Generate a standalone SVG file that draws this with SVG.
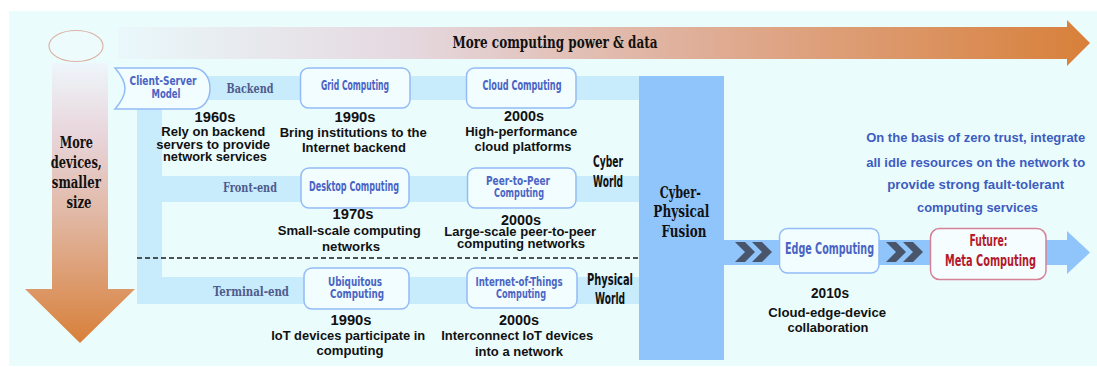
<svg xmlns="http://www.w3.org/2000/svg" width="1097" height="367" viewBox="0 0 1097 367">
  <defs>
    <linearGradient id="gTop" x1="118" y1="0" x2="1090" y2="0" gradientUnits="userSpaceOnUse">
      <stop offset="0" stop-color="#eaf8fb"/>
      <stop offset="0.3" stop-color="#e5d8df"/>
      <stop offset="0.62" stop-color="#dfab92"/>
      <stop offset="1" stop-color="#d8803a"/>
    </linearGradient>
    <linearGradient id="gDown" x1="0" y1="63" x2="0" y2="343" gradientUnits="userSpaceOnUse">
      <stop offset="0" stop-color="#eef6fb"/>
      <stop offset="0.25" stop-color="#e8d6dc"/>
      <stop offset="0.55" stop-color="#e1b7a3"/>
      <stop offset="1" stop-color="#d8803a"/>
    </linearGradient>
    <polygon id="chev" points="0,0 10,0 20,10 10,20 0,20 10,10"/>
  </defs>
  <style>
    .band { fill: #c8ecfc; }
    .fusion { fill: #90c5fc; }
    .box { fill: #f1fdff; stroke: #93bbf6; stroke-width: 1.5; }
    .boxR { fill: #f6fdff; stroke: #d68296; stroke-width: 1.5; }
    .lbl { font-family: "DejaVu Sans Condensed", "DejaVu Sans", sans-serif; font-stretch: condensed; font-weight: bold; fill: #4a64c4; text-anchor: middle; }
    .red { fill: #b4192b; }
    .slab { font-family: "DejaVu Serif Condensed", "DejaVu Serif", serif; font-stretch: condensed; font-weight: bold; text-anchor: middle; }
    .tier { fill: #4f5b8c; font-size: 13.5px; }
    .world { font-family: "DejaVu Sans Condensed", "DejaVu Sans", sans-serif; font-stretch: condensed; font-weight: bold; fill: #111; font-size: 15px; text-anchor: middle; }
    .yr { font-family: "Liberation Sans", Arial, sans-serif; font-weight: bold; fill: #111; font-size: 14px; text-anchor: middle; }
    .desc { font-family: "Liberation Sans", Arial, sans-serif; font-weight: bold; fill: #111; font-size: 13px; text-anchor: middle; }
    .note { font-family: "Liberation Sans", Arial, sans-serif; font-weight: bold; fill: #3d5cc0; font-size: 13px; text-anchor: middle; }
    .chev { fill: #48556a; }
  </style>

  <!-- canvas -->
  <rect x="9" y="11" width="1088" height="355" fill="#ebfcfd"/>

  <!-- axes: computing power (horizontal) and device count (vertical) -->
  <g id="axis-power">
    <polygon points="118,27 1067,27 1067,20 1090,43 1067,66 1067,59 118,59" fill="url(#gTop)"/>
    <text class="slab" x="555" y="48" font-size="16" fill="#111" textLength="205" lengthAdjust="spacingAndGlyphs">More computing power &amp; data</text>
  </g>
  <g id="axis-devices">
    <ellipse cx="76" cy="46" rx="27" ry="15.5" fill="#edfbfd" stroke="#dcb5a8" stroke-width="1.2"/>
    <polygon points="52,63 108,63 108,289 135,289 80,343 25,289 52,289" fill="url(#gDown)"/>
    <text class="slab" font-size="17" fill="#111">
      <tspan x="79" y="148" textLength="33" lengthAdjust="spacingAndGlyphs">More</tspan>
      <tspan x="79" y="168" textLength="51" lengthAdjust="spacingAndGlyphs">devices,</tspan>
      <tspan x="79" y="188" textLength="49" lengthAdjust="spacingAndGlyphs">smaller</tspan>
      <tspan x="79" y="208" textLength="25" lengthAdjust="spacingAndGlyphs">size</tspan>
    </text>
  </g>

  <!-- tier bands and links -->
  <g id="connectors">
    <rect class="band" x="200" y="76" width="439" height="24"/>
    <rect class="band" x="137" y="105" width="25" height="199"/>
    <rect class="band" x="137" y="176" width="502" height="26"/>
    <rect class="band" x="137" y="277" width="502" height="27"/>
    <line x1="137" y1="258" x2="638" y2="258" stroke="#1a1a1a" stroke-width="1.3" stroke-dasharray="5,3"/>
    <rect class="fusion" x="724" y="240" width="344" height="25"/>
    <polygon class="fusion" points="1067,231 1090,252.5 1067,274"/>
    <use href="#chev" class="chev" x="735" y="242"/>
    <use href="#chev" class="chev" x="752" y="242"/>
    <use href="#chev" class="chev" x="886" y="242"/>
    <use href="#chev" class="chev" x="903" y="242"/>
  </g>

  <g id="tier-labels">
    <text class="slab tier" x="250" y="93" textLength="47" lengthAdjust="spacingAndGlyphs">Backend</text>
    <text class="slab tier" x="250" y="192" textLength="54" lengthAdjust="spacingAndGlyphs">Front-end</text>
    <text class="slab tier" x="251" y="296" textLength="76" lengthAdjust="spacingAndGlyphs">Terminal-end</text>
  </g>

  <!-- backend row -->
  <g id="client-server">
    <path class="box" d="M115,68 H193 C204,68 210,78 210,88.5 C210,99 204,109 193,109 H115 C122,101 125,95 125,88.5 C125,82 122,76 115,68 Z"/>
    <text class="lbl" font-size="12.5">
      <tspan x="165" y="85" textLength="67" lengthAdjust="spacingAndGlyphs">Client-Server</tspan>
      <tspan x="166" y="98" textLength="29" lengthAdjust="spacingAndGlyphs">Model</tspan>
    </text>
    <text class="yr" x="215" y="122" textLength="41" lengthAdjust="spacingAndGlyphs">1960s</text>
    <text class="desc">
      <tspan x="215" y="136" textLength="104" lengthAdjust="spacingAndGlyphs">Rely on backend</tspan>
      <tspan x="215" y="148.5" textLength="114" lengthAdjust="spacingAndGlyphs">servers to provide</tspan>
      <tspan x="215" y="161" textLength="104" lengthAdjust="spacingAndGlyphs">network services</tspan>
    </text>
  </g>
  <g id="grid">
    <rect class="box" x="300.5" y="68" width="109.5" height="40" rx="8"/>
    <text class="lbl" x="355" y="90" font-size="14" textLength="68" lengthAdjust="spacingAndGlyphs">Grid Computing</text>
    <text class="yr" x="355" y="122" textLength="41" lengthAdjust="spacingAndGlyphs">1990s</text>
    <text class="desc">
      <tspan x="355" y="137" textLength="147" lengthAdjust="spacingAndGlyphs">Bring institutions to the</tspan>
      <tspan x="354" y="152" textLength="104" lengthAdjust="spacingAndGlyphs">Internet backend</tspan>
    </text>
  </g>
  <g id="cloud">
    <rect class="box" x="466.5" y="68" width="109.5" height="40" rx="8"/>
    <text class="lbl" x="522" y="90" font-size="14" textLength="79" lengthAdjust="spacingAndGlyphs">Cloud Computing</text>
    <text class="yr" x="524" y="121" textLength="40" lengthAdjust="spacingAndGlyphs">2000s</text>
    <text class="desc">
      <tspan x="523" y="136" textLength="112" lengthAdjust="spacingAndGlyphs">High-performance</tspan>
      <tspan x="523" y="151" textLength="97" lengthAdjust="spacingAndGlyphs">cloud platforms</tspan>
    </text>
  </g>

  <!-- front-end row -->
  <g id="desktop">
    <rect class="box" x="301" y="168" width="108" height="40" rx="8"/>
    <text class="lbl" x="354" y="191" font-size="14" textLength="90" lengthAdjust="spacingAndGlyphs">Desktop Computing</text>
    <text class="yr" x="353" y="219" textLength="41" lengthAdjust="spacingAndGlyphs">1970s</text>
    <text class="desc">
      <tspan x="351" y="235" textLength="143" lengthAdjust="spacingAndGlyphs">Small-scale computing</tspan>
      <tspan x="351" y="251" textLength="58" lengthAdjust="spacingAndGlyphs">networks</tspan>
    </text>
  </g>
  <g id="peer-to-peer">
    <rect class="box" x="467.5" y="168" width="108.5" height="40" rx="8"/>
    <text class="lbl" font-size="12.5">
      <tspan x="520" y="184.5" textLength="64" lengthAdjust="spacingAndGlyphs">Peer-to-Peer</tspan>
      <tspan x="519" y="197" textLength="50" lengthAdjust="spacingAndGlyphs">Computing</tspan>
    </text>
    <text class="yr" x="521" y="224.5" font-size="13.5" textLength="40" lengthAdjust="spacingAndGlyphs">2000s</text>
    <text class="desc" font-size="12.5">
      <tspan x="522" y="236" textLength="152" lengthAdjust="spacingAndGlyphs">Large-scale peer-to-peer</tspan>
      <tspan x="521" y="247.5" textLength="128" lengthAdjust="spacingAndGlyphs">computing networks</tspan>
    </text>
  </g>

  <!-- terminal-end row -->
  <g id="ubiquitous">
    <rect class="box" x="304" y="268" width="105" height="41" rx="8"/>
    <text class="lbl" font-size="12.5">
      <tspan x="357" y="285.5" textLength="54" lengthAdjust="spacingAndGlyphs">Ubiquitous</tspan>
      <tspan x="357" y="298" textLength="54" lengthAdjust="spacingAndGlyphs">Computing</tspan>
    </text>
    <text class="yr" x="351" y="325" textLength="41" lengthAdjust="spacingAndGlyphs">1990s</text>
    <text class="desc">
      <tspan x="350" y="340" textLength="154" lengthAdjust="spacingAndGlyphs">IoT devices participate in</tspan>
      <tspan x="350" y="355" textLength="67" lengthAdjust="spacingAndGlyphs">computing</tspan>
    </text>
  </g>
  <g id="iot">
    <rect class="box" x="467" y="268" width="110" height="40" rx="8"/>
    <text class="lbl" font-size="12.5">
      <tspan x="521" y="285.5" textLength="87" lengthAdjust="spacingAndGlyphs">Internet-of-Things</tspan>
      <tspan x="521" y="297.5" textLength="50" lengthAdjust="spacingAndGlyphs">Computing</tspan>
    </text>
    <text class="yr" x="519" y="325" textLength="40" lengthAdjust="spacingAndGlyphs">2000s</text>
    <text class="desc">
      <tspan x="519" y="340" textLength="152" lengthAdjust="spacingAndGlyphs">Interconnect IoT devices</tspan>
      <tspan x="519" y="356" textLength="88" lengthAdjust="spacingAndGlyphs">into a network</tspan>
    </text>
  </g>

  <g id="world-labels">
    <text class="world" x="608" y="167" textLength="30" lengthAdjust="spacingAndGlyphs">Cyber</text>
    <text class="world" x="608" y="187" textLength="30" lengthAdjust="spacingAndGlyphs">World</text>
    <text class="world" x="610" y="285" textLength="46" lengthAdjust="spacingAndGlyphs">Physical</text>
    <text class="world" x="610" y="304" textLength="30" lengthAdjust="spacingAndGlyphs">World</text>
  </g>

  <g id="fusion">
    <rect class="fusion" x="639" y="76" width="85" height="284"/>
    <text class="slab" font-size="17" fill="#111">
      <tspan x="683" y="198" textLength="41" lengthAdjust="spacingAndGlyphs">Cyber-</tspan>
      <tspan x="684" y="217" textLength="56" lengthAdjust="spacingAndGlyphs">Physical</tspan>
      <tspan x="684" y="237" textLength="45" lengthAdjust="spacingAndGlyphs">Fusion</tspan>
    </text>
  </g>

  <g id="edge">
    <rect class="box" x="779.5" y="228.5" width="99.5" height="44.5" rx="8"/>
    <text class="lbl" x="829.5" y="254" font-size="16" textLength="89" lengthAdjust="spacingAndGlyphs">Edge Computing</text>
    <text class="yr" x="830" y="298" textLength="38" lengthAdjust="spacingAndGlyphs">2010s</text>
    <text class="desc">
      <tspan x="829" y="317" textLength="118" lengthAdjust="spacingAndGlyphs">Cloud-edge-device</tspan>
      <tspan x="828" y="332" textLength="81" lengthAdjust="spacingAndGlyphs">collaboration</tspan>
    </text>
  </g>

  <g id="meta">
    <rect class="boxR" x="930.5" y="228.5" width="115.5" height="51" rx="9"/>
    <text class="lbl red" font-size="16">
      <tspan x="991" y="246" textLength="38" lengthAdjust="spacingAndGlyphs">Future:</tspan>
      <tspan x="990.5" y="266" textLength="91" lengthAdjust="spacingAndGlyphs">Meta Computing</tspan>
    </text>
  </g>

  <g id="meta-note">
    <text class="note">
      <tspan x="977.5" y="142" textLength="219" lengthAdjust="spacingAndGlyphs">On the basis of zero trust, integrate</tspan>
      <tspan x="977.5" y="167" textLength="219" lengthAdjust="spacingAndGlyphs">all idle resources  on the network to</tspan>
      <tspan x="977.5" y="188.5" textLength="177" lengthAdjust="spacingAndGlyphs">provide strong fault-tolerant</tspan>
      <tspan x="977.5" y="212" textLength="121" lengthAdjust="spacingAndGlyphs">computing services</tspan>
    </text>
  </g>
</svg>
